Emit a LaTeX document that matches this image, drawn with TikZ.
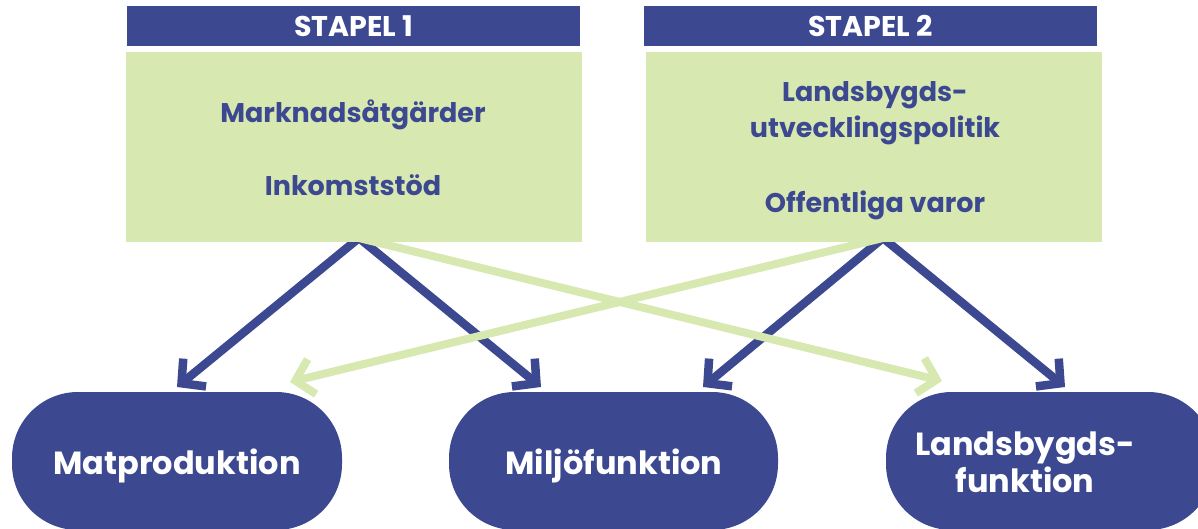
\documentclass[tikz,border=0pt]{standalone}
\usepackage{fontspec}
\setmainfont{Poppins}
\usetikzlibrary{arrows.meta}
\definecolor{cblue}{RGB}{60,73,145}
\definecolor{cgreen}{RGB}{215,233,176}
\begin{document}
\begin{tikzpicture}[x=1pt,y=-1pt,
 hdr/.style={fill=cblue, text=white, font=\fontsize{28.5}{30}\selectfont\bfseries, minimum width=453pt, minimum height=40pt, inner sep=0pt},
 gbox/.style={fill=cgreen, minimum width=456pt, minimum height=190pt, inner sep=0pt},
 gtxt/.style={text=cblue, font=\fontsize{27}{32}\selectfont\bfseries, anchor=base, inner sep=0pt},
 pill/.style={fill=cblue, rounded corners=66pt, minimum height=138pt, inner sep=0pt},
 ptxt/.style={text=white, font=\fontsize{32}{37}\selectfont\bfseries, anchor=base, inner sep=0pt},
 barrow/.style={draw=cblue, line width=8.5pt, -{Straight Barb[length=17pt,width=36pt,sharp]}},
 garrow/.style={draw=cgreen, line width=8pt, -{Straight Barb[length=17pt,width=36pt,sharp]}},
]
\useasboundingbox (0,0) rectangle (1198,529);
% connector end points
\coordinate (o1) at (359,238);
\coordinate (o2) at (883,238);
\coordinate (e1) at (177,387);
\coordinate (e2) at (541,387);
\coordinate (e3) at (703,387);
\coordinate (e4) at (1065,387);
\coordinate (g1) at (942,381);
\coordinate (g2) at (290,382);
% arrows
\draw[barrow] (o1) -- (e1);
\draw[barrow] (o1) -- (e2);
\draw[barrow] (o2) -- (e3);
\draw[barrow] (o2) -- (e4);
\draw[garrow] (o1) -- (g1);
\draw[garrow] (o2) -- (g2);
% headers
\node[hdr] (h1) at (353.5,26) {STAPEL 1};
\node[hdr] (h2) at (870.5,26) {STAPEL 2};
% green boxes
\node[gbox] (b1) at (354,147) {};
\node[gbox] (b2) at (874,147) {};
\node[gtxt] (t1a) at (353,123) {Marknadsåtgärder};
\node[gtxt] (t1b) at (353,196) {Inkomststöd};
\node[gtxt] (t2a) at (875,102) {Landsbygds-};
\node[gtxt] (t2b) at (875,138) {utvecklingspolitik};
\node[gtxt] (t2c) at (875,213) {Offentliga varor};
% pills
\node[pill, minimum width=330pt] (p1) at (177,461) {};
\node[pill, minimum width=329pt] (p2) at (613.5,461) {};
\node[pill, minimum width=328pt] (p3) at (1050,461) {};
\node[ptxt] (p1t) at (177,474) {Matproduktion};
\node[ptxt] (p2t) at (614,474) {Miljöfunktion};
\node[ptxt] (p3a) at (1025,455) {Landsbygds-};
\node[ptxt] (p3b) at (1025,492) {funktion};
\end{tikzpicture}
\end{document}
